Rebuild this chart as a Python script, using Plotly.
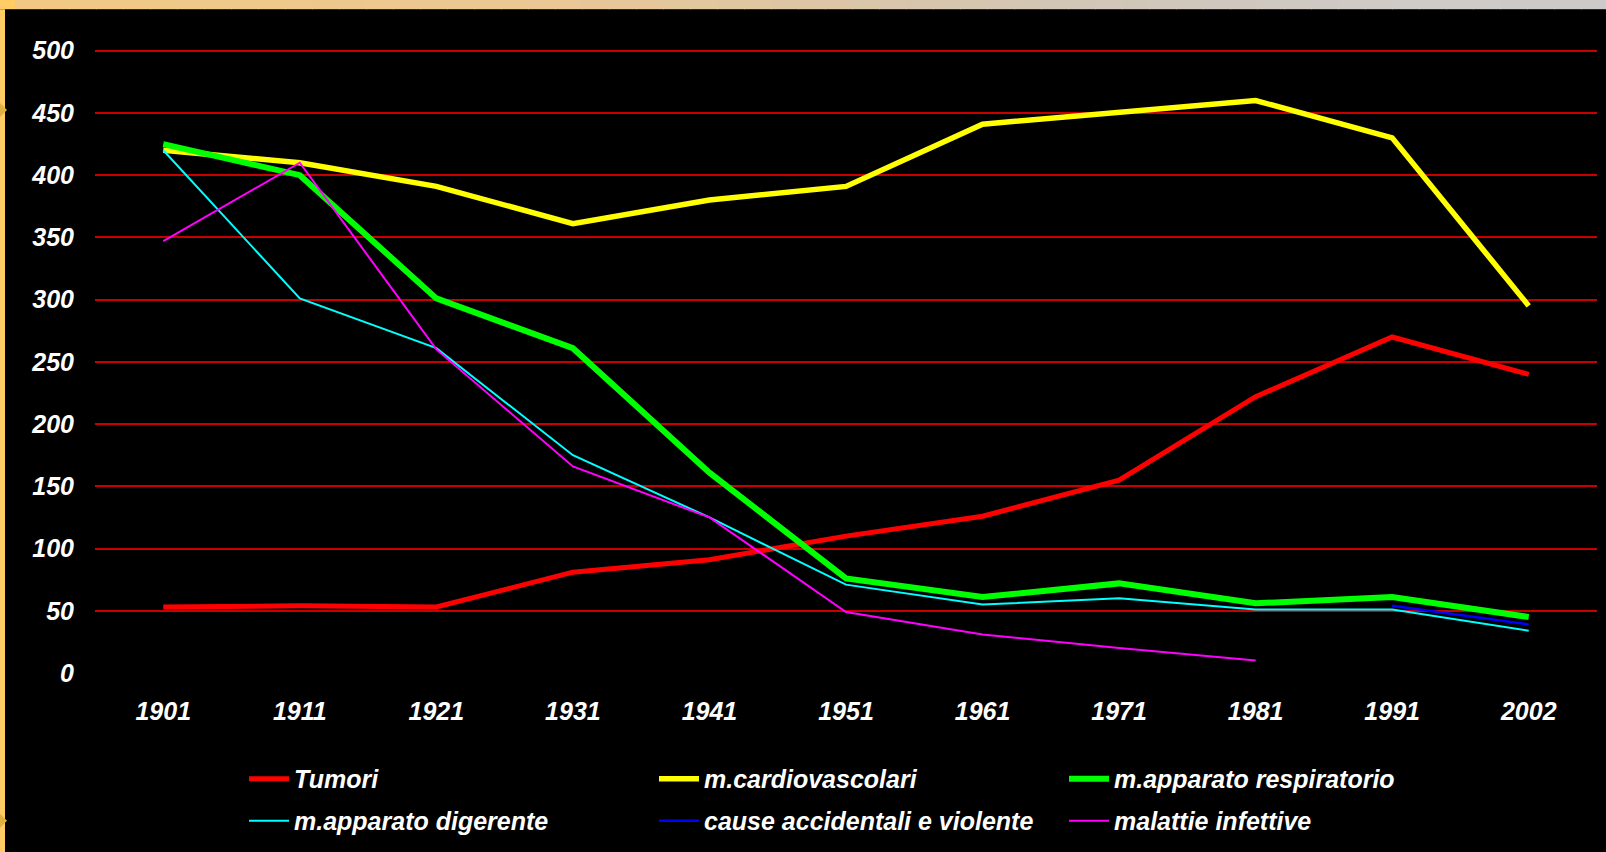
import numpy as np
import plotly.graph_objects as go

years = ["1901", "1911", "1921", "1931", "1941", "1951", "1961", "1971", "1981", "1991", "2002"]

tumori = [53, 54, 53, 81, 91, 110, 126, 155, 222, 270, 240]
cardiovascolari = [420, 410, 391, 361, 380, 391, 441, 451, 460, 430, 295]
respiratorio = [425, 400, 301, 261, 161, 76, 61, 72, 56, 61, 45]
digerente = [420, 301, 261, 175, 125, 71, 55, 60, 51, 51, 34]
accidentali = [None, None, None, None, None, None, None, None, None, 54, 39]
infettive = [347, 410, 260, 166, 125, 49, 31, 20, 10, None, None]

y_ticks = [0, 50, 100, 150, 200, 250, 300, 350, 400, 450, 500]
Y_MAX = 503

W, H = 1606, 852
L, R, B = 95, 9, 178
PH0 = 674 - 50.6               # pixel span of 0..500
PH = PH0 * Y_MAX / 500
T = H - B - PH
PW = W - L - R

def px2x(px):
    return (px - L) / PW

def px2y(py):
    return (H - B - py) / PH

FONT = dict(family="Liberation Sans, Arial, sans-serif", size=25, color="white",
            weight="bold", style="italic")

series = [
    ("Tumori", tumori, "#FF0000", 5, "legend"),
    ("m.cardiovascolari", cardiovascolari, "#FFFF00", 5.5, "legend"),
    ("m.apparato respiratorio", respiratorio, "#00FF00", 6, "legend"),
    ("m.apparato digerente", digerente, "#00FFFF", 2, "legend2"),
    ("cause accidentali e violente", accidentali, "#0000FF", 2.5, "legend2"),
    ("malattie infettive", infettive, "#FF00FF", 2, "legend2"),
]

fig = go.Figure()
for name, vals, color, width, leg in series:
    fig.add_trace(go.Scatter(
        x=years, y=vals, name=name, mode="lines",
        line=dict(color=color, width=width),
        connectgaps=False, legend=leg,
    ))

# slide border decoration
shapes = []
stops_px = [0, 15, 530, 1030, 1400, 1606]
stops_rgb = np.array([[255, 204, 102], [242, 202, 132], [235, 200, 148],
                      [211, 198, 180], [207, 203, 200], [205, 203, 202]], float)
shapes.append(dict(type="rect", xref="paper", yref="paper",
                   x0=px2x(-2), x1=px2x(15), y0=px2y(9), y1=px2y(-2),
                   fillcolor="#FFCC66", line=dict(width=0), layer="above"))
edges = np.linspace(15, 1608, 60)
for a, b in zip(edges[:-1], edges[1:]):
    m = (a + b) / 2
    rgb = [int(np.interp(m, stops_px, stops_rgb[:, k])) for k in range(3)]
    shapes.append(dict(type="rect", xref="paper", yref="paper",
                       x0=px2x(a), x1=px2x(b + 1), y0=px2y(9), y1=px2y(-2),
                       fillcolor="rgb(%d,%d,%d)" % tuple(rgb), line=dict(width=0), layer="above"))
shapes.append(dict(type="rect", xref="paper", yref="paper",
                   x0=px2x(-2), x1=px2x(5), y0=px2y(H + 2), y1=px2y(9),
                   fillcolor="#FFCC66", line=dict(width=0), layer="above"))
# small decorative triangles on the left strip
for cy in (110, 822):
    shapes.append(dict(type="path", xref="paper", yref="paper",
                       path="M %f,%f L %f,%f L %f,%f Z" % (
                           px2x(0), px2y(cy - 7), px2x(7), px2y(cy), px2x(0), px2y(cy + 7)),
                       fillcolor="#E0B040", line=dict(width=0), layer="above"))

fig.update_layout(
    width=W, height=H,
    margin=dict(l=L, r=R, t=T, b=B),
    paper_bgcolor="black", plot_bgcolor="black",
    font=FONT,
    showlegend=True,
    shapes=shapes,
    xaxis=dict(type="category", categoryorder="array", categoryarray=years,
               range=[-0.5, len(years) - 0.5], showgrid=False, zeroline=False,
               showline=False, ticks="", tickfont=FONT, ticklabelstandoff=21),
    yaxis=dict(range=[0, Y_MAX], tickvals=y_ticks, showgrid=True, gridcolor="#C80000",
               gridwidth=2, zeroline=True, zerolinecolor="black", zerolinewidth=3,
               showline=False, ticks="", tickfont=FONT, ticklabelstandoff=20),
    legend=dict(orientation="h", x=px2x(244), xanchor="left", y=px2y(779), yanchor="middle",
                entrywidth=355, entrywidthmode="pixels", bgcolor="rgba(0,0,0,0)",
                font=FONT, itemwidth=40, traceorder="normal"),
    legend2=dict(orientation="h", x=px2x(244), xanchor="left", y=px2y(821), yanchor="middle",
                 entrywidth=355, entrywidthmode="pixels", bgcolor="rgba(0,0,0,0)",
                 font=FONT, itemwidth=40, traceorder="normal"),
)

fig.write_html("out.html", config={"displayModeBar": False},
               post_script="document.body.style.margin='0px';document.body.style.background='black';")
